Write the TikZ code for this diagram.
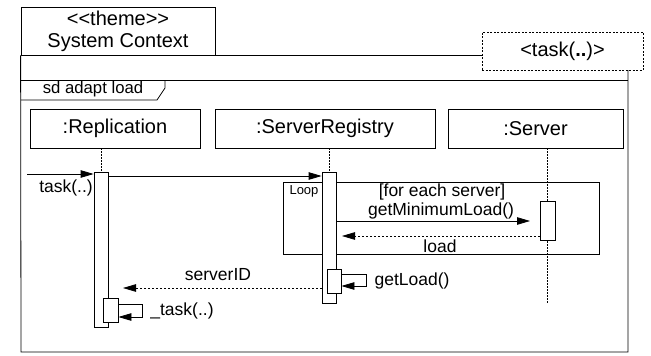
\documentclass[tikz,border=0pt]{standalone}
\usepackage{fontspec}
\setmainfont{Liberation Sans}
\usetikzlibrary{arrows.meta}
\begin{document}
\begin{tikzpicture}[x=1pt,y=-1pt,line width=0.8pt,
  headbox/.style={draw,fill=white,minimum height=39pt,inner sep=0pt,font=\fontsize{20}{22}\selectfont},
  actbar/.style={draw,fill=white,inner sep=0pt},
  lbl/.style={inner sep=0pt,font=\fontsize{17.5}{19}\selectfont},
  msg/.style={-{Triangle[length=13pt,width=7.5pt]}},
  ret/.style={dash pattern=on 2pt off 2pt,-{Triangle[length=13pt,width=7.5pt]}},
  life/.style={dash pattern=on 1.5pt off 1.5pt,line width=0.7pt}]
\useasboundingbox (0,0) rectangle (651,356);
% outer frame
\node[draw,minimum width=194pt,minimum height=48pt,inner sep=0pt,align=center,
      font=\fontsize{20}{22}\selectfont] (theme) at (118,31) {<{}<theme>{}>\\System Context};
\node[draw,dash pattern=on 2pt off 1.5pt,minimum width=161pt,minimum height=38pt,inner sep=0pt,
      font=\fontsize{20}{22}\selectfont] (param) at (562.5,51) {<task(\textbf{..})>};
\draw (param.west |- theme.south) -- (theme.south east);
\draw (theme.south west) -- (21,352) -- (628,352) -- (628,70);
% sd frame
\draw (21,80) -- (628,80);
\draw (21,100) -- (157,100) -- (165,88) -- (165,80);
\node[inner sep=0pt,font=\fontsize{16.7}{18}\selectfont] (sdlbl) at (93,89) {sd adapt load};
% lifeline heads
\node[headbox,minimum width=170pt] (rep) at (115,128.5) {:Replication};
\node[headbox,minimum width=220pt] (reg) at (325,128.5) {:ServerRegistry};
\node[headbox,minimum width=175pt] (srv) at (535.5,128.5) {:Server};
% loop fragment
\node[draw,minimum width=316pt,minimum height=72pt,inner sep=0pt] (loop) at (441,218) {};
\node[inner sep=0pt,font=\fontsize{13}{14}\selectfont] (looplbl) at (304,191) {Loop};
% activations positions
\coordinate (repX) at (101,0);
\coordinate (regX) at (329,0);
\coordinate (srvX) at (547.5,0);
\coordinate (srvEnd) at (547.5,303);
\draw[life] (repX |- rep.south) -- (101,172);
\draw[life] (regX |- reg.south) -- (329,172);
\draw[life] (srvX |- srv.south) -- (srvEnd);
\node[actbar,minimum width=14pt,minimum height=155pt] (repAct) at (101,249.5) {};
\node[actbar,minimum width=14pt,minimum height=131pt] (regAct) at (329,237.5) {};
\node[actbar,minimum width=15pt,minimum height=39pt] (srvAct) at (547.5,220.5) {};
\node[actbar,minimum width=15pt,minimum height=24pt] (repSelf) at (110.5,310) {};
\node[actbar,minimum width=14pt,minimum height=24pt] (regSelf) at (334,281) {};
% found message
\coordinate (foundStart) at (27,174);
\draw[msg] (foundStart) -- (repAct.west |- foundStart);
\node[lbl] (l1) at (66,188) {task(..)};
% call to registry
\draw[msg] (repAct.east |- 0,176) -- (regAct.west |- 0,176);
% getMinimumLoad
\coordinate (gmlEnd) at (530,221);
\draw[msg] (regAct.east |- gmlEnd) -- (gmlEnd);
\node[lbl] (l2) at (442,192) {[for each server]};
\node[lbl] (l3) at (441,211) {getMinimumLoad()};
% load return
\coordinate (loadEnd) at (342,236);
\draw[ret] (srvAct.west |- loadEnd) -- (loadEnd);
\node[lbl] (l4) at (440,246) {load};
% getLoad self call
\draw[msg] (regSelf.east |- 0,274) -- (366,274) -- (366,286) -- (regSelf.east |- 0,286);
\node[lbl] (l5) at (412,281) {getLoad()};
% serverID return
\coordinate (sidEnd) at (123,288);
\draw[ret] (regAct.west |- sidEnd) -- (sidEnd);
\node[lbl] (l6) at (218,275) {serverID};
% _task self call
\draw[msg] (repSelf.east |- 0,304) -- (142,304) -- (142,317) -- (repSelf.east |- 0,317);
\node[lbl] (l7) at (182,311) {\_task(..)};
\end{tikzpicture}
\end{document}
